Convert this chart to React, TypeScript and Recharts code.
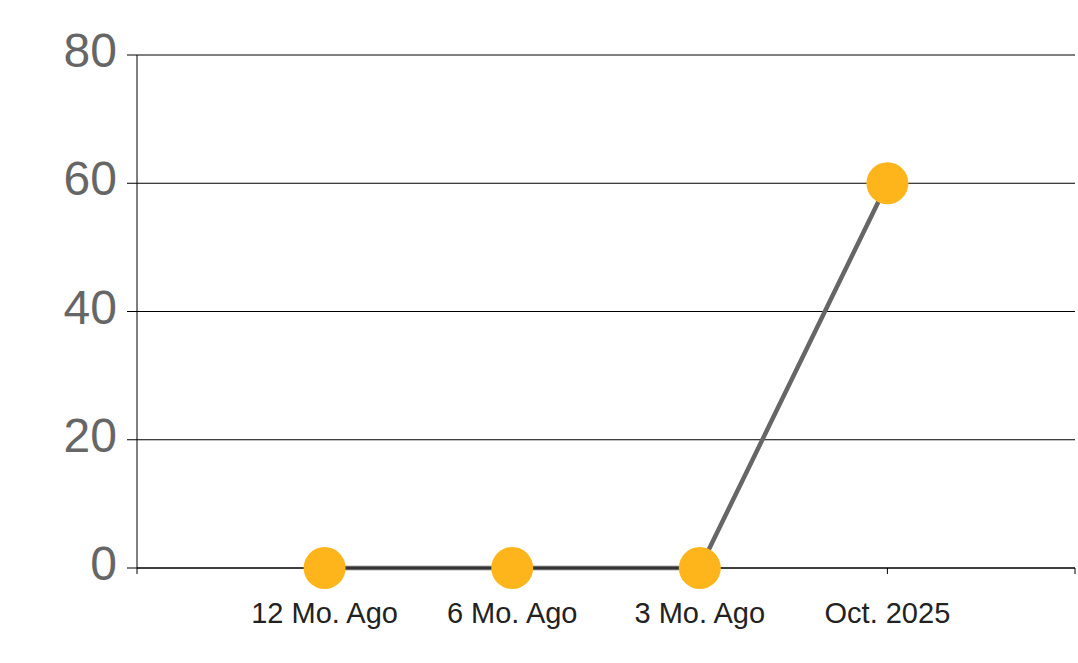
import { LineChart, Line, XAxis, YAxis, CartesianGrid } from 'recharts';

// categories (empty slots at both ends keep the points on the inner ticks)
const periods = ['', '12 Mo. Ago', '6 Mo. Ago', '3 Mo. Ago', 'Oct. 2025', ''];
const counts: (number | null)[] = [null, 0, 0, 0, 60, null];
const yTicks = [0, 20, 40, 60, 80];

const data = periods.map((period, i) => ({ period, value: counts[i] }));

const FONT = '"Liberation Sans", Arial, sans-serif';

const YTick = (props: any) => {
    const { x, y, payload } = props;
    return (
        <text x={x} y={y} dy={12} textAnchor="end" fill="#666666" fontSize={48} fontFamily={FONT}>
            {payload.value}
        </text>
    );
};

const XTick = (props: any) => {
    const { x, y, payload } = props;
    return (
        <text x={x} y={y} dy={23} textAnchor="middle" fill="#222222" fontSize={29} fontFamily={FONT}>
            {payload.value}
        </text>
    );
};

export default function App() {
    return (
        <div style={{ position: 'absolute', left: 0, top: 0, background: '#fff' }}>
            <LineChart width={1078} height={663} data={data} margin={{ top: 55, right: 3, bottom: 0, left: 0 }}>
                <CartesianGrid horizontal vertical={false} stroke="#000" strokeWidth={1} />
                <XAxis
                    dataKey="period"
                    padding={{ left: 0, right: 0 }}
                    interval={0}
                    axisLine={{ stroke: '#000', strokeWidth: 1 }}
                    tickLine={{ stroke: '#000', strokeWidth: 1 }}
                    tickSize={6}
                    tickMargin={26}
                    tick={<XTick />}
                    height={95}
                />
                <YAxis
                    domain={[0, 80]}
                    ticks={yTicks}
                    width={137}
                    axisLine={{ stroke: '#000', strokeWidth: 1 }}
                    tickLine={{ stroke: '#000', strokeWidth: 1 }}
                    tickSize={10}
                    tickMargin={10}
                    tick={<YTick />}
                />
                <Line
                    type="linear"
                    dataKey="value"
                    stroke="#666666"
                    strokeWidth={4.5}
                    dot={{ r: 21, fill: '#FDB51B', stroke: '#FDB51B', strokeWidth: 0 }}
                    activeDot={false}
                    isAnimationActive={false}
                />
            </LineChart>
        </div>
    );
}
